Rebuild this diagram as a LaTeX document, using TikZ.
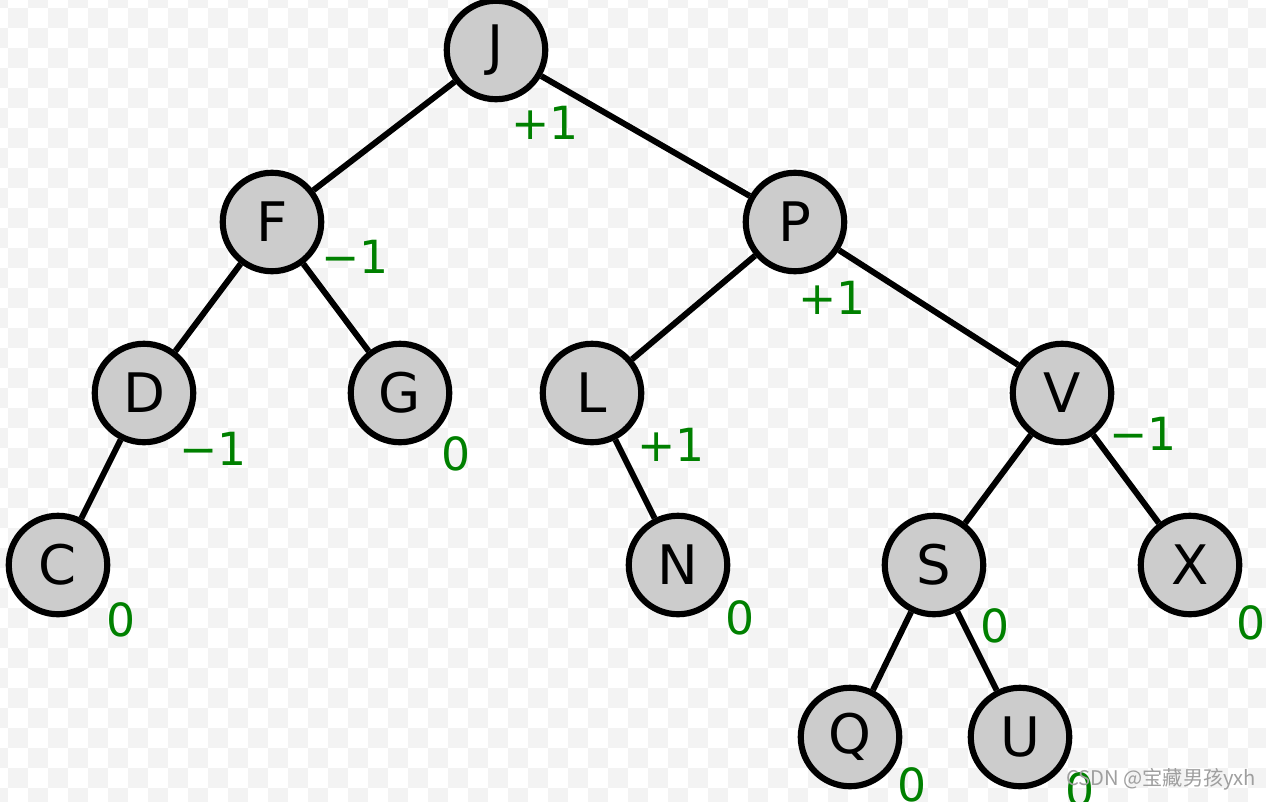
\documentclass[tikz,border=0pt]{standalone}
\usepackage{fontspec}
\setmainfont{DejaVu Sans}
\newfontfamily\cjk{Noto Sans CJK SC}
\usetikzlibrary{positioning}
\definecolor{nodegray}{HTML}{CCCCCC}
\definecolor{balgreen}{HTML}{008000}
\definecolor{checkgray}{HTML}{F3F3F3}

\begin{document}
\begin{tikzpicture}[x=0.02cm, y=-0.02cm,
  avl/.style={circle, draw, fill=nodegray, line width=3.5pt, minimum size=1.97cm, inner sep=0pt, font=\fontsize{31}{31}\selectfont},
  bal/.style={text=balgreen, inner sep=0pt, font=\fontsize{26}{26}\selectfont},
  edge/.style={line width=3.4pt}]
  \useasboundingbox (0,0) rectangle (1266,801);
  \clip (0,0) rectangle (1266,801);
  % checkerboard
  \foreach \i in {0,2,...,64}
    \foreach \j in {0,2,...,40} {
      \fill[checkgray] (\i*20-12,\j*20-12) rectangle ++(20,20);
      \fill[checkgray] (\i*20+8,\j*20+8) rectangle ++(20,20);
    }
  % tree
  \node[avl] (J) at (496,50) {J};
  \node[avl] (F) at (272,222) {F};
  \node[avl] (P) at (795,222) {P};
  \node[avl] (D) at (144,393) {D};
  \node[avl] (G) at (400,393) {G};
  \node[avl] (L) at (592,393) {L};
  \node[avl] (V) at (1062,393) {V};
  \node[avl] (C) at (58,565) {C};
  \node[avl] (N) at (678,565) {N};
  \node[avl] (S) at (934,565) {S};
  \node[avl] (X) at (1190,565) {X};
  \node[avl] (Q) at (850,737) {Q};
  \node[avl] (U) at (1020,737) {U};
  \foreach \a/\b in {J/F, J/P, F/D, F/G, D/C, P/L, P/V, L/N, V/S, V/X, S/Q, S/U}
    \draw[edge] (\a) -- (\b);
  % balance factors
  \node[bal] (bJ) at (545,123) {+1};
  \node[bal] (bF) at (355,257) {−1};
  \node[bal] (bP) at (832,298) {+1};
  \node[bal] (bD) at (213,449) {−1};
  \node[bal] (bG) at (456,454) {0};
  \node[bal] (bL) at (671,445) {+1};
  \node[bal] (bV) at (1143,434) {−1};
  \node[bal] (bC) at (121,620) {0};
  \node[bal] (bN) at (740,618) {0};
  \node[bal] (bS) at (995,626) {0};
  \node[bal] (bX) at (1251,623) {0};
  \node[bal] (bQ) at (912,785) {0};
  \node[bal] (bU) at (1080,790) {0};
  \node[text=gray!75, inner sep=0pt, font=\cjk\fontsize{11.5}{11.5}\selectfont] (mark) at (1161,779) {CSDN @宝藏男孩yxh};
\end{tikzpicture}
\end{document}
